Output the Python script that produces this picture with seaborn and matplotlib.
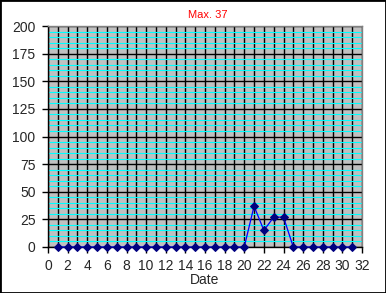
import matplotlib
matplotlib.use("Agg")
import matplotlib.pyplot as plt
import seaborn as sns
import pandas as pd
from matplotlib.ticker import MultipleLocator
from matplotlib.patches import Rectangle

days = list(range(1, 32))
values = [0]*20 + [37, 15, 27, 27] + [0]*7
title = "Max. 37"

sns.set_style("white")
plt.rcParams['font.family'] = ['Liberation Sans', 'DejaVu Sans']

df = pd.DataFrame({"Date": days, "Value": values})

fig = plt.figure(figsize=(3.86, 2.93), dpi=100)
ax = fig.add_axes([48/386, 1-247/293, (362-48)/386, (247-26)/293])
ax.set_facecolor("#c0c0c0")

ax.set_xlim(0, 32)
ax.set_ylim(0, 200)
ax.yaxis.set_major_locator(MultipleLocator(25))
ax.yaxis.set_minor_locator(MultipleLocator(5))
ax.xaxis.set_major_locator(MultipleLocator(2))
ax.xaxis.set_minor_locator(MultipleLocator(1))
ax.grid(which="minor", axis="y", color="#00ffff", linewidth=0.8)
ax.grid(which="major", axis="y", color="black", linewidth=1.0)
ax.grid(which="both", axis="x", color="black", linewidth=1.0)
ax.set_axisbelow(True)

sns.lineplot(data=df, x="Date", y="Value", ax=ax, color="#0000ff", linewidth=0.9,
             marker="D", markersize=4.2, markerfacecolor="#000080", markeredgecolor="#000080",
             zorder=5, clip_on=False)

for s in ["top", "right"]:
    ax.spines[s].set_color("#808080")
    ax.spines[s].set_linewidth(1)
for s in ["left", "bottom"]:
    ax.spines[s].set_color("black")
    ax.spines[s].set_linewidth(1)

ax.tick_params(which="major", direction="out", length=4, width=1, color="black",
               labelsize=10, pad=5, left=True, bottom=True)
ax.tick_params(which="minor", length=0)
ax.set_xlabel("Date", fontsize=10, labelpad=0)
ax.set_ylabel("")
fig.text(208/386, 1-15/293, title, color="red", fontsize=8, ha="center", va="center")

fig.patches.append(Rectangle((0, 0), 1, 1, transform=fig.transFigure, fill=False,
                             edgecolor="black", linewidth=2))
fig.savefig("out.png", dpi=100)
